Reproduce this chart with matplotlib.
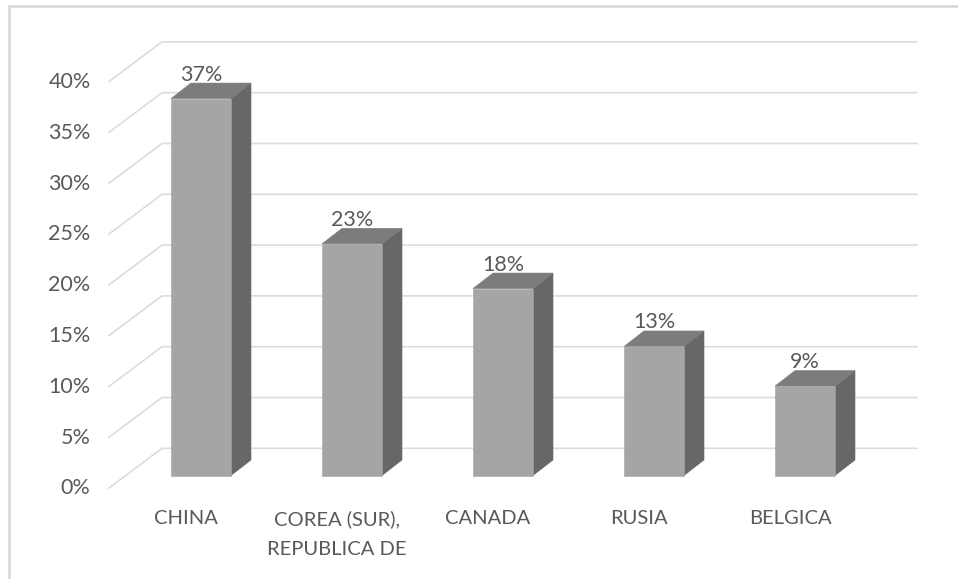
import matplotlib
matplotlib.use("Agg")
import matplotlib.pyplot as plt
from matplotlib.patches import Polygon, Rectangle

categories = ["CHINA", "COREA (SUR),\nREPUBLICA DE", "CANADA", "RUSIA", "BELGICA"]
values = [37.1, 22.8, 18.4, 12.7, 8.8]
value_labels = ["37%", "23%", "18%", "13%", "9%"]
ticks = [0, 5, 10, 15, 20, 25, 30, 35, 40]
tick_labels = ["0%", "5%", "10%", "15%", "20%", "25%", "30%", "35%", "40%"]

W, H = 958, 579
X0, XSTEP = 201.0, 151.0   # pixel x of first category, step
Y0, YSTEP = 475.5, 10.16   # pixel y of 0 %, pixels per %

plt.rcParams["font.family"] = ["Lato", "DejaVu Sans"]
fig = plt.figure(figsize=(W / 100, H / 100), dpi=100, facecolor="white")
ax = fig.add_axes([0, 0, 1, 1])
ax.set_xlim((0 - X0) / XSTEP, (W - X0) / XSTEP)
ax.set_ylim((Y0 - H) / YSTEP, Y0 / YSTEP)
ax.axis("off")

def cx(px):
    return (px - X0) / XSTEP

def dv(px):
    return px / YSTEP

TXT = "#595959"
GRID = "#dcdcdc"
FRONT, SIDE, TOP = "#a5a5a5", "#676767", "#7c7c7c"

# chart frame
ax.plot([cx(9), cx(9), cx(958)], [(Y0 - 579) / YSTEP, (Y0 - 6) / YSTEP, (Y0 - 6) / YSTEP],
        color="#d9d9d9", lw=1.9, solid_capstyle="butt", solid_joinstyle="miter", zorder=1)

# gridlines: floor/wall fold
front_off = dv(475.5 - 488)
back_off = dv(475.5 - 448.3)
for t, lab in zip(ticks, tick_labels):
    ax.plot([cx(109), cx(162), cx(917)],
            [t + front_off, t + back_off, t + back_off],
            color=GRID, lw=1.2, solid_joinstyle="miter", zorder=2)
    ax.text(cx(90.5), t + front_off - dv(0.5), lab, ha="right", va="center",
            fontsize=15.5, color=TXT, zorder=5)

# 3-D columns
bw = 60 / XSTEP
ddx = 20 / XSTEP
ddy = dv(15.5)
for i, (cat, v, lab) in enumerate(zip(categories, values, value_labels)):
    l, r = i - bw / 2, i + bw / 2
    ax.add_patch(Polygon([(r, 0), (r + ddx, ddy), (r + ddx, v + ddy), (r, v)],
                         closed=True, fc=SIDE, ec=SIDE, lw=0.4, zorder=3))
    ax.add_patch(Polygon([(l, v), (r, v), (r + ddx, v + ddy), (l + ddx, v + ddy)],
                         closed=True, fc=TOP, ec=TOP, lw=0.4, zorder=3))
    ax.add_patch(Rectangle((l, 0), bw, v, fc=FRONT, ec=FRONT, lw=0.4, zorder=4))
    ax.text(i, v + dv(24), lab, ha="center", va="center", fontsize=15.5, color=TXT, zorder=5)
    ax.text(i - 15 / XSTEP, dv(475.5 - 510), cat, ha="center", va="top",
            fontsize=14.5, color=TXT, linespacing=1.95, zorder=5)

fig.savefig("out.png", dpi=100, facecolor="white")
